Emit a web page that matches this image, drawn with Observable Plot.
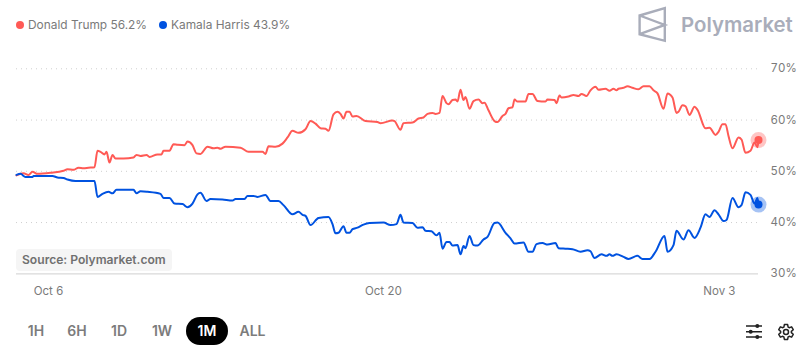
<!DOCTYPE html>
<html>
<head>
<meta charset="utf-8">
<script src="https://cdn.jsdelivr.net/npm/d3@7"></script>
<script src="https://cdn.jsdelivr.net/npm/@observablehq/plot@0.6"></script>
<style>
html,body{margin:0;padding:0;background:#fff;font-family:Inter,sans-serif}
#wrap{position:relative;width:809px;height:353px;overflow:hidden}
#wrap svg{display:block}
.abs{position:absolute;white-space:nowrap}
.leg{top:16px;font-size:11.9px;line-height:18px;color:#7a7a7a}
.ldot{top:21px;width:8px;height:8px;border-radius:50%}
.btn{top:322px;font-size:14px;line-height:18px;font-weight:600;color:#7c7c7c}
</style>
</head>
<body>
<div id="wrap"></div>
<script>
// Hours since Oct 6 00:00, and implied probability in percent.
const trumpHours = [-32,-25,-20,-16,-11,2,15,19,25,30,35,40,46,49,52,56,58,61,64,67,75,85,88,92,98,101,109,113,115,121,125,129,136,139,144,148,152,159,165,169,172,177,192,200,214,217,220,227,234,239,244,250,257,262,267,272,277,280,285,289,292,295,298,301,304,308,317,329,332,344,346,352,355,364,370,375,379,384,387,391,394,398,400,404,407,409,412,415,417,421,425,430,434,436,440,446,449,454,457,460,464,466,469,477,480,484,489,497,499,506,508,511,513,520,525,530,533,538,542,547,550,557,561,565,568,570,575,579,584,590,595,601,605,609,615,619,624,628,630,634,637,641,646,649,657,661,667,670,674,677,680,684,690,693,697,702,706,709,710];
const trumpPct = [49.2,49.6,49.3,49.9,49.5,49.7,50.1,50.4,50.3,50.7,50.6,50.7,50.8,54.0,53.8,53.3,53.8,51.7,53.2,52.5,52.5,52.7,53.2,53.0,53.2,52.8,53.3,53.3,54.0,54.0,55.3,55.2,55.1,55.8,55.1,53.5,53.4,54.8,54.5,54.6,54.4,54.8,54.6,53.8,53.8,53.4,54.9,54.8,55.4,56.6,57.9,57.5,58.2,59.8,59.3,58.4,58.3,57.9,61.1,61.6,61.2,60.3,61.6,61.6,60.7,60.8,59.8,59.6,59.4,59.9,59.8,58.1,59.4,59.5,60.3,60.5,61.2,61.4,61.2,61.4,64.7,63.3,63.1,63.9,64.0,63.6,65.9,63.9,64.5,62.2,63.7,64.0,63.3,63.4,61.9,59.8,59.6,60.8,61.2,62.3,62.5,64.0,63.6,63.6,65.1,65.1,63.7,63.6,64.0,63.9,63.3,64.8,64.4,64.6,64.9,64.7,65.1,64.7,65.8,66.5,65.9,66.1,65.7,66.1,65.8,66.1,66.3,66.6,66.3,66.0,66.6,66.6,65.8,65.2,62.2,65.2,64.4,61.4,61.6,62.9,62.7,61.0,62.6,62.0,58.4,58.5,57.1,57.7,59.2,59.2,56.9,54.5,56.6,56.2,53.6,54.0,55.6,54.7,56.1];
const harrisHours = [-32,-28,-23,-16,-15,4,9,15,19,27,46,49,54,60,64,68,85,88,92,99,112,115,121,126,134,139,144,149,152,158,162,174,184,187,196,199,205,209,217,222,230,235,244,250,254,257,262,270,280,284,287,290,295,298,301,304,309,315,321,335,342,348,352,355,364,369,374,377,383,388,391,394,398,401,404,409,412,415,417,421,425,429,435,439,446,449,457,462,466,475,480,484,488,494,499,507,510,517,524,532,539,542,546,553,558,561,564,568,575,580,589,594,601,607,616,619,625,628,635,640,646,652,657,661,666,670,675,678,684,690,693,697,702,706,709,710];
const harrisPct = [49.3,49.5,48.9,48.9,49.1,49.1,48.8,48.7,48.4,48.1,48.1,45.0,45.6,46.0,45.7,46.4,46.4,45.7,46.1,46.0,45.6,44.8,44.8,43.7,43.6,43.0,43.7,45.5,45.8,44.2,44.6,44.5,44.3,44.6,44.6,45.2,45.2,45.0,45.4,44.2,44.2,43.4,41.6,42.1,41.5,41.3,39.5,40.9,41.1,39.7,37.9,38.0,39.3,38.0,38.0,38.7,39.0,39.6,39.9,40.0,39.5,39.7,41.5,40.0,39.9,39.0,39.1,38.4,38.3,37.5,38.0,34.9,36.2,36.2,35.5,35.6,33.8,35.4,35.0,37.4,35.6,35.5,36.7,37.2,39.9,40.0,38.0,36.9,35.9,36.1,34.3,34.3,35.8,36.0,35.7,36.0,35.0,34.9,34.8,34.3,34.6,34.4,33.1,33.8,33.5,33.8,33.5,33.8,33.3,32.9,33.5,32.9,32.9,34.3,37.4,34.3,35.6,38.4,36.7,38.5,37.0,39.0,41.6,41.1,42.4,41.6,40.3,40.5,44.8,43.0,43.4,45.9,45.4,43.7,44.8,43.5];
const yTicks = [30,40,50,60,70];
const xTickHours = [0,335,671];
const rangeLabels = ["1H","6H","1D","1W","1M","ALL"];
const legendLabels = ["Donald Trump 56.2%","Kamala Harris 43.9%"];

const RED = "#ff5a55", BLUE = "#0052e0";
const start = Date.UTC(2024,9,6);
const t = h => new Date(start + h*3600e3);
const table = (hs, ps) => hs.map((h,i)=>({date:t(h), pct:ps[i]}));
const trump = table(trumpHours, trumpPct);
const harris = table(harrisHours, harrisPct);
const lastT = trump[trump.length-1], lastH = harris[harris.length-1];

const chart = Plot.plot({
  width:809, height:353,
  marginTop:68.3, marginBottom:79.7, marginLeft:16, marginRight:51,
  style:{fontFamily:"Inter, sans-serif", fontSize:"11.5px", color:"#7a7a7a", background:"#fff"},
  x:{type:"utc", domain:[t(-32),t(710)]},
  y:{domain:[30,70]},
  marks:[
    Plot.ruleY(yTicks.filter(d=>d>30),{stroke:"#cfcfcf",strokeDasharray:"1,4",strokeWidth:1}),
    Plot.ruleY([30],{stroke:"#d9d9d9",strokeWidth:1.2}),
    Plot.axisY({anchor:"right",ticks:yTicks,tickSize:0,tickPadding:12,label:null,tickFormat:d=>d+"%",fill:"#7a7a7a",fontSize:11.5}),
    Plot.axisX({anchor:"bottom",ticks:xTickHours.map(t),tickSize:0,tickPadding:13,label:null,tickFormat:d=>d3.utcFormat("%b %-d")(new Date(+d+3600e3*1)),fill:"#7a7a7a",fontSize:11.5}),
    Plot.line(trump,{x:"date",y:"pct",stroke:RED,strokeWidth:2,curve:"monotone-x"}),
    Plot.line(harris,{x:"date",y:"pct",stroke:BLUE,strokeWidth:2,curve:"monotone-x"}),
    Plot.dot([lastT],{x:"date",y:"pct",r:8,fill:RED,fillOpacity:0.35}),
    Plot.dot([lastT],{x:"date",y:"pct",r:4,fill:RED}),
    Plot.dot([lastH],{x:"date",y:"pct",r:8,fill:BLUE,fillOpacity:0.35}),
    Plot.dot([lastH],{x:"date",y:"pct",r:4,fill:BLUE})
  ]
});
const wrap = document.getElementById("wrap");
wrap.appendChild(chart);

function add(cls, css, text){
  const d=document.createElement("div");
  d.className="abs "+cls; d.style.cssText=css;
  if(text!=null) d.textContent=text;
  wrap.appendChild(d); return d;
}
// Legend
add("ldot",`left:16px;background:${RED}`);
add("leg","left:28px",legendLabels[0]);
add("ldot",`left:159px;background:${BLUE}`);
add("leg","left:171px",legendLabels[1]);
// Logo
add("",'left:681px;top:11px;font-size:20.4px;line-height:28px;font-weight:600;color:#a9adba',"Polymarket");
const logo=add("",'left:636px;top:5px;width:34px;height:40px');
logo.innerHTML='<svg width="34" height="40" viewBox="0 0 34 40" fill="none" stroke="#a9adba" stroke-width="2.4" stroke-linejoin="miter"><path d="M3.6 10.5 L28.8 3.2 V35.8 L3.6 29.2 Z M3.6 10.5 L28.8 20 L3.6 29.2"/></svg>';
// Source chip
add("",'left:16px;top:249px;width:156px;height:22px;background:#f5f5f5;border-radius:4px;box-sizing:border-box;padding-left:6px;font-size:12.1px;line-height:22px;font-weight:600;color:#707070',"Source: Polymarket.com");
// Range buttons
add("",'left:186px;top:317px;width:42px;height:28px;background:#000;border-radius:14px');
const btnX=[[36,"#7c7c7c"],[77,"#7c7c7c"],[119,"#7c7c7c"],[162,"#7c7c7c"],[207,"#fff"],[252.5,"#7c7c7c"]];
rangeLabels.forEach((l,i)=>add("btn",`left:${btnX[i][0]}px;transform:translateX(-50%);color:${btnX[i][1]}`,l));
// Settings icons
const gear = d3.range(6).flatMap(i=>{
  const a=i*Math.PI/3-Math.PI/2, s=0.27;
  const pt=(r,b)=>`${(46+r*Math.cos(b)).toFixed(2)} ${(16+r*Math.sin(b)).toFixed(2)}`;
  return [pt(5.4,a-s*1.5),pt(7.6,a-s*0.8),pt(7.6,a+s*0.8),pt(5.4,a+s*1.5)];
}).join(" L ");
const icons=add("",'left:740px;top:316px;width:60px;height:32px');
icons.innerHTML=`<svg width="60" height="32" viewBox="0 0 60 32" fill="none" stroke="#222"><path d="M6 10H22M6 15.7H22M6 21H22" stroke-width="1.6"/><g fill="#222" stroke="none"><circle cx="17.3" cy="10" r="2"/><circle cx="10.7" cy="15.7" r="2"/><circle cx="17.3" cy="21" r="2"/></g><circle cx="46" cy="16" r="2.5" stroke-width="1.5"/><path d="M ${gear} Z" stroke-width="1.5" stroke-linejoin="round"/></svg>`;
</script>
</body>
</html>
